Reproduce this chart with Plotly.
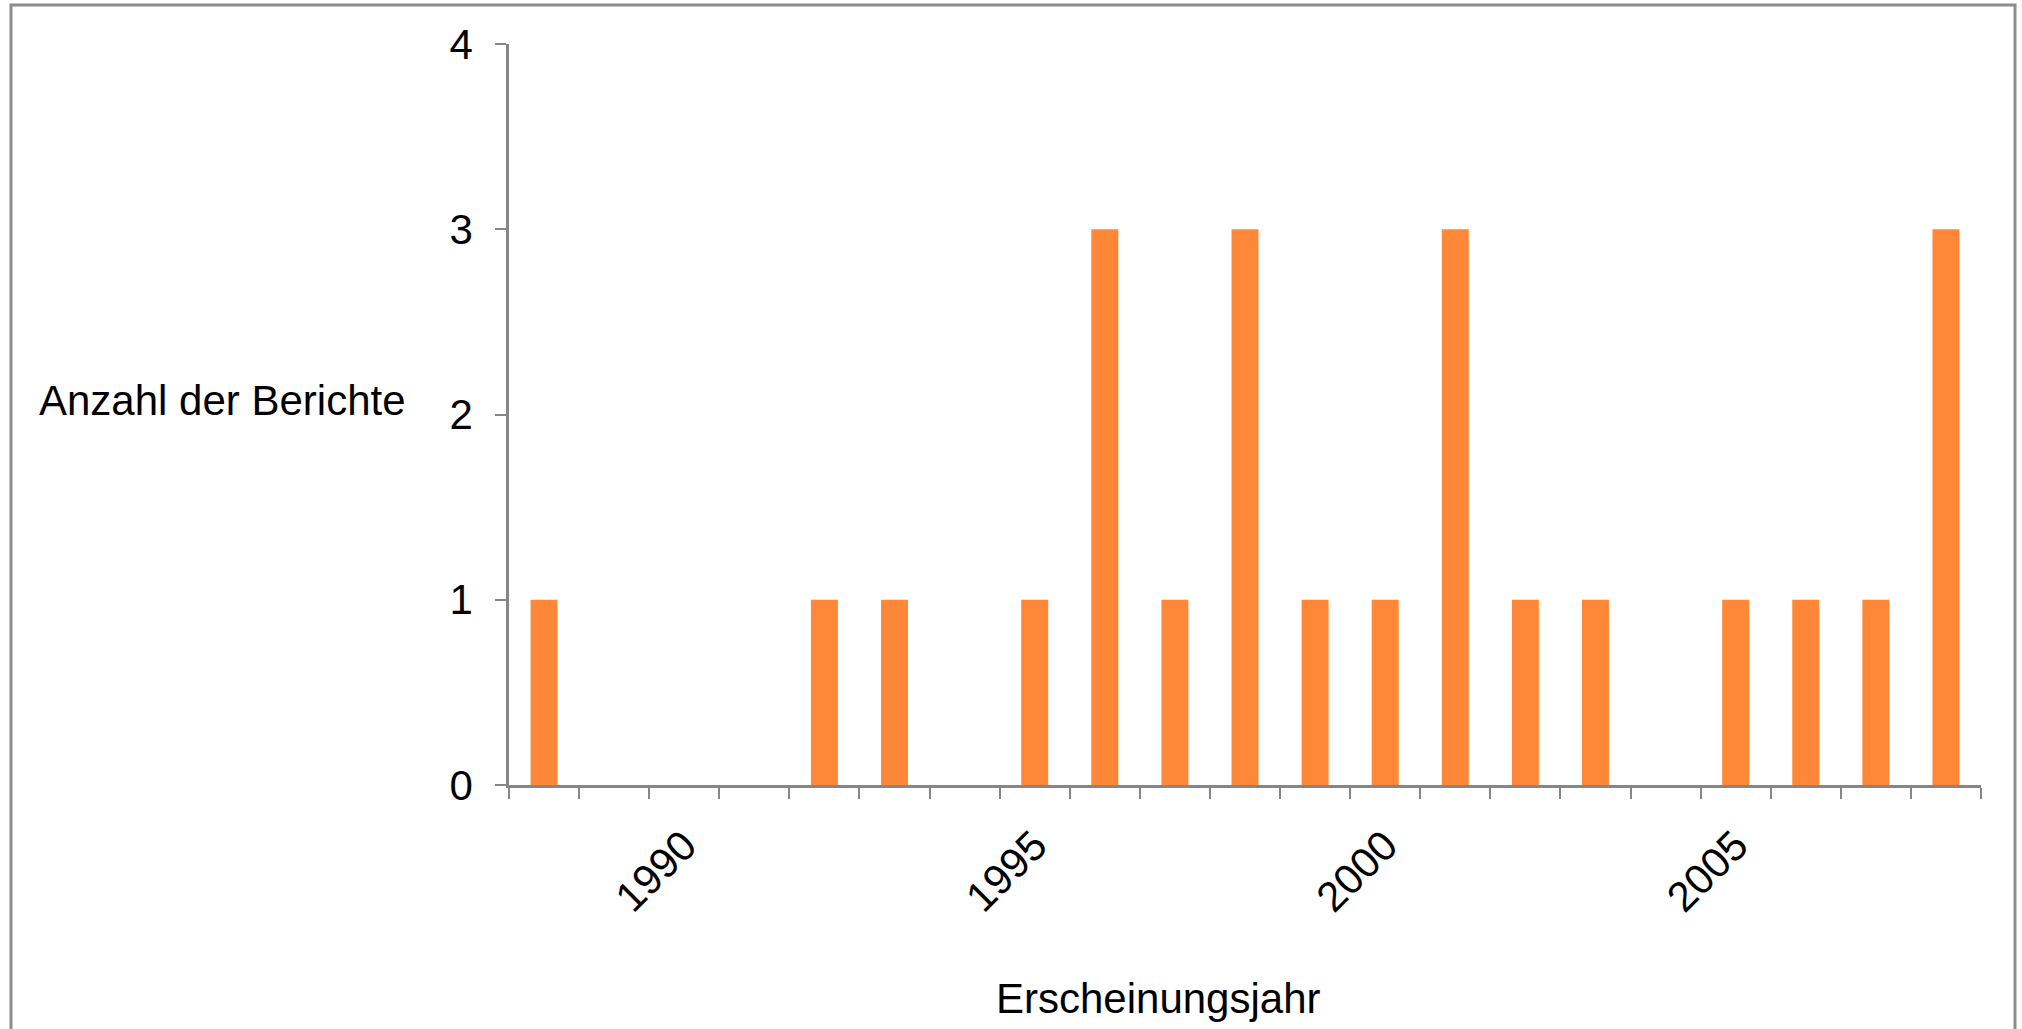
import plotly.graph_objects as go

# Erscheinungsjahr vs. Anzahl der Berichte
years = list(range(1988, 2009))
reports = [1, 0, 0, 0, 1, 1, 0, 1, 3, 1, 3, 1, 1, 3, 1, 1, 0, 1, 1, 1, 3]
label_years = [1990, 1995, 2000, 2005]

font_family = "Liberation Sans, Arial, sans-serif"
axis_gray = "#868686"
bar_orange = "#FF8838"

W, H = 2022, 1029
left, right, top, bottom = 509, 1981, 44, 785

fig = go.Figure()
fig.add_trace(go.Bar(
    x=years,
    y=reports,
    marker=dict(color=bar_orange, line=dict(width=0)),
    width=0.385,
    showlegend=False,
))

fig.update_xaxes(
    range=[years[0] - 0.5, years[-1] + 0.5],
    tickmode="array",
    tickvals=label_years,
    ticktext=[str(y) for y in label_years],
    ticks="",
    tickangle=-45,
    ticklabelstandoff=16,
    tickfont=dict(size=42, color="black", family=font_family),
    minor=dict(tick0=years[0] - 0.5, dtick=1, ticks="outside", ticklen=11,
               tickwidth=2, tickcolor=axis_gray, showgrid=False),
    showline=True, linecolor=axis_gray, linewidth=3,
    showgrid=False, zeroline=False,
)
fig.update_yaxes(
    range=[0, 4],
    dtick=1,
    ticks="outside", ticklen=11, tickwidth=2, tickcolor=axis_gray,
    ticklabelstandoff=14,
    tickfont=dict(size=42, color="black", family=font_family),
    showline=True, linecolor=axis_gray, linewidth=2.5,
    showgrid=False, zeroline=False,
)

pw, ph = right - left, bottom - top
fig.add_annotation(text="Anzahl der Berichte", xref="paper", yref="paper",
                   x=(222 - left) / pw, y=(bottom - 400) / ph,
                   showarrow=False, xanchor="center", yanchor="middle",
                   font=dict(size=42, color="black", family=font_family))
fig.add_annotation(text="Erscheinungsjahr", xref="paper", yref="paper",
                   x=(1158 - left) / pw, y=(bottom - 998) / ph,
                   showarrow=False, xanchor="center", yanchor="middle",
                   font=dict(size=42, color="black", family=font_family))

# chart frame (bottom edge is cut off in the original)
fig.add_shape(type="rect", xref="paper", yref="paper",
              x0=(11 - left) / pw, x1=(2015 - left) / pw,
              y0=(bottom - 1060) / ph, y1=(bottom - 5) / ph,
              line=dict(color="#8C8C8C", width=3), fillcolor="rgba(0,0,0,0)")

fig.update_layout(
    width=W, height=H,
    margin=dict(l=left, r=W - right, t=top, b=H - bottom, pad=0),
    plot_bgcolor="white", paper_bgcolor="white",
    font=dict(family=font_family),
    bargap=0.615,
)

# drop the browser's default body margin so the figure sits at the page origin
fig.write_html("out.html", config={"displayModeBar": False},
               post_script="document.body.style.margin='0';")
